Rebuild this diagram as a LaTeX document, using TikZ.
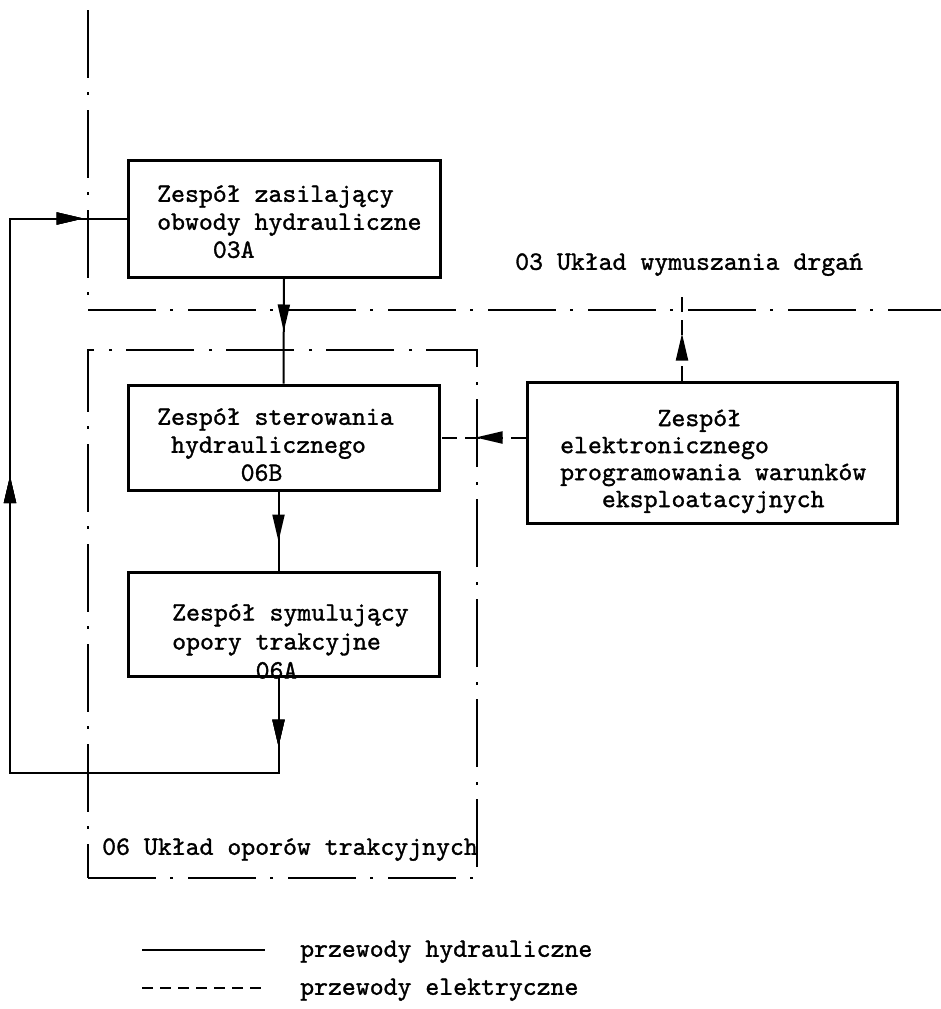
\documentclass[tikz,border=0pt]{standalone}
\usepackage{fontspec}
\newfontface\tw{lmmono10-regular}[Extension=.otf, FakeBold=1.2]
\usetikzlibrary{arrows.meta,decorations.markings,calc}
\begin{document}
\begin{tikzpicture}[x=1pt,y=-1pt,
  >={Triangle[length=27pt,width=12pt]},
  box/.style={draw, line width=3pt, inner sep=0pt},
  region/.style={draw, line width=1.8pt, dash pattern=on 68pt off 14pt on 3pt off 15pt},
  conn/.style={draw, line width=2pt},
  elec/.style={draw, line width=2pt, dash pattern=on 15pt off 8pt},
  legdash/.style={draw, line width=2pt, dash pattern=on 11pt off 7pt},
  txt/.style={anchor=north west, inner sep=0pt, align=left, font=\tw\fontsize{26.5}{28}\selectfont},
  arrat/.style={postaction={decorate}, decoration={markings, mark=at position #1 with {\arrow{>}}}},
]
\useasboundingbox (0,0) rectangle (941,1009);

% regions
\coordinate (r03top) at (88,10);
\coordinate (r03c) at (88,310);
\coordinate (r03r) at (941,310);
\draw[region] (r03top) -- (r03c) -- (r03r);
\node[region, minimum width=389pt, minimum height=528pt, inner sep=0pt] (r06) at (282.5,614) {};

% boxes
\node[box, minimum width=312pt, minimum height=117pt] (z03a) at (284,218.5) {};
\node[box, minimum width=311pt, minimum height=105pt] (z06b) at (283.5,437.5) {};
\node[box, minimum width=311pt, minimum height=104pt] (z06a) at (283.5,624) {};
\node[box, minimum width=370pt, minimum height=141pt] (zel) at (712,452.5) {};

% box texts
\node[txt] (t03a) at (157,182) {\strut Zespół zasilający\\\strut obwody hydrauliczne\\\strut\hphantom{0000}03A};
\node[txt] (t06b) at (157,405) {\strut Zespół sterowania\\\strut\hphantom{0}hydraulicznego\\\strut\hphantom{000000}06B};
\node[txt, font=\tw\fontsize{26.5}{29}\selectfont] (t06a) at (172,600) {\strut Zespół symulujący\\\strut opory trakcyjne\\\strut\hphantom{000000}06A};
\node[txt, font=\tw\fontsize{26.5}{27}\selectfont] (tel) at (560,407) {\strut\hphantom{0000000}Zespół\\\strut elektronicznego\\\strut programowania warunków\\\strut\hphantom{000}eksploatacyjnych};

% region labels
\node[txt] (l03) at (515,250) {\strut 03 Układ wymuszania drgań};
\node[txt] (l06) at (102,835) {\strut 06 Układ oporów trakcyjnych};

% hydraulic connectors
\draw[conn, arrat=53pt] (z03a.south) -- (z06b.north);
\draw[conn, arrat=50pt] ([xshift=-5pt]z06b.south) -- ([xshift=-5pt]z06a.north);
\coordinate (lb) at (10,773);
\draw[conn, arrat=69pt, arrat=661pt, arrat=992pt] ([xshift=-5pt]z06a.south) |- (lb) |- (z03a.west);

% electric connectors
\draw[elec, arrat=50pt] (zel.west |- z06b.east) -- (z06b.east);
\coordinate (eltop) at (682,294);
\draw[elec, arrat=47pt] (zel.north -| eltop) -- (eltop);

% legend
\coordinate (lg1a) at (142,950);
\coordinate (lg1b) at (265,950);
\coordinate (lg2a) at (142,988);
\coordinate (lg2b) at (265,988);
\draw[conn] (lg1a) -- (lg1b);
\draw[legdash] (lg2a) -- (lg2b);
\node[txt] (lt1) at (300,937) {\strut przewody hydrauliczne};
\node[txt] (lt2) at (300,975) {\strut przewody elektryczne};
\end{tikzpicture}
\end{document}
